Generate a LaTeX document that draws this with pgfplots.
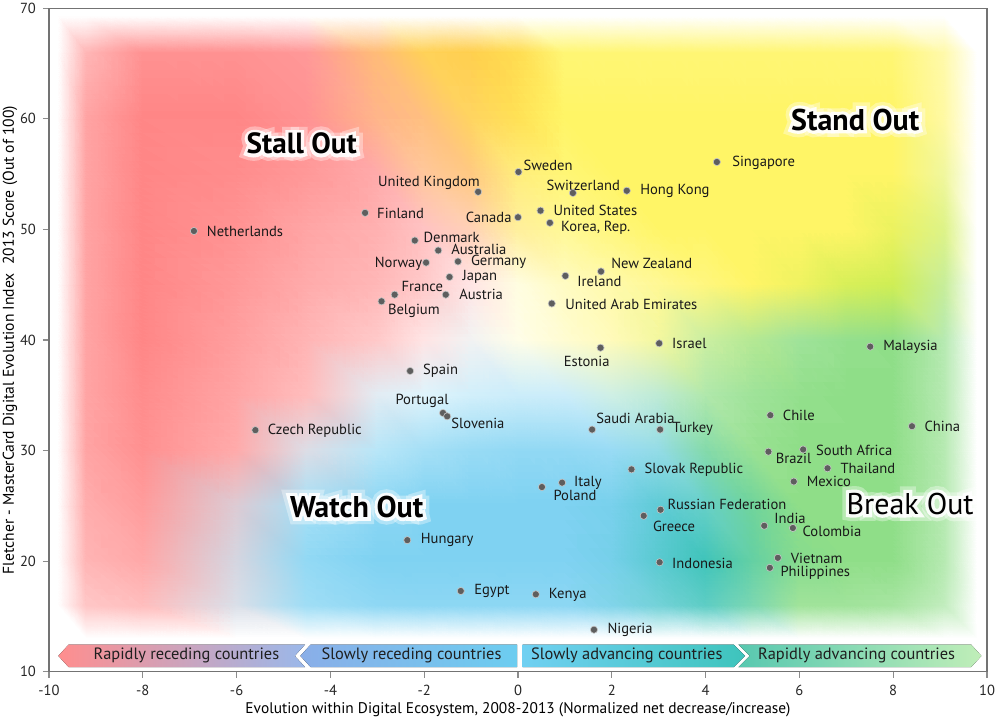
\documentclass[border=0pt]{standalone}
\usepackage{fontspec}
\setmainfont{PT Sans}
\newfontfamily\haloA{PT Sans}[FakeBold=22]
\newfontfamily\haloB{PT Sans}[FakeBold=45]
\usepackage{pgfplots}
\pgfplotsset{compat=1.18}
\definecolor{cR}{HTML}{FF8686}
\definecolor{cO}{HTML}{FFCC44}
\definecolor{cY}{HTML}{FFF566}
\definecolor{cL}{HTML}{CFEE55}
\definecolor{cG}{HTML}{8FDE88}
\definecolor{cT}{HTML}{40C4BA}
\definecolor{cB}{HTML}{7FD2F2}
\newcommand\lab{\fontsize{7.3}{8}\selectfont}
\newcommand\glow[3]{%
  \node[text=white, opacity=0.35, font=\haloB#2] at (#1) {#3};
  \node[text=white, opacity=0.9, font=\haloA#2] at (#1) {#3};
  \node[font=#2, text=black] at (#1) {#3};
}
\begin{document}
\begin{tikzpicture}
\path[use as bounding box] (-24.5pt,-26.15pt) rectangle (475.5pt,335.85pt);
\begin{axis}[
  at={(0,0)}, anchor=south west,
  scale only axis, width=469pt, height=331.7pt,
  xmin=-10, xmax=10, ymin=10, ymax=70,
  xtick={-10,-8,...,10}, ytick={10,20,...,70},
  tick align=outside, tick pos=left, major tick length=3pt,
  axis line style={black!55, line width=0.6pt},
  tick style={black!45, line width=0.6pt},
  ticklabel style={font=\fontsize{7.3}{8}\selectfont, text=black!85},
  /pgf/number format/assume math mode=true,
  xlabel={Evolution within Digital Ecosystem, 2008-2013 (Normalized net decrease/increase)},
  ylabel={Fletcher - MasterCard Digital Evolution Index\ \ 2013 Score (Out of 100)},
  every axis x label/.style={at={(axis description cs:0.5,0)}, yshift=-19pt, anchor=center, font=\fontsize{7.7}{8}\selectfont},
  every axis y label/.style={at={(axis description cs:0,0.5)}, xshift=-19.5pt, rotate=90, anchor=center, font=\fontsize{7.8}{8}\selectfont},
  clip=true,
]
\addplot[surf, shader=interp, mesh/color input=explicit, point meta=explicit symbolic, mesh/cols=19] table[meta=c] {
x y c
-9.8 13 color=white
-9.2 13 color=white
-8 13 color=white
-6 13 color=white
-4.5 13 color=white
-3 13 color=white
-2 13 color=white
-1 13 color=white
0 13 color=white
1 13 color=white
2 13 color=white
3 13 color=white
4 13 color=white
5 13 color=white
6 13 color=white
7 13 color=white
8 13 color=white
9.1 13 color=white
9.8 13 color=white
-9.8 16 color=white
-9.2 16 color=cR!48
-8 16 color=cR!55
-6 16 color=cR!35!cB!45
-4.5 16 color=cB!75
-3 16 color=cB!88
-2 16 color=cB!90
-1 16 color=cB!90
0 16 color=cB!90
1 16 color=cB!90
2 16 color=cB!80!cT!90
3 16 color=cB!40!cT!85
4 16 color=cT!85
5 16 color=cT!55!cG!85
6 16 color=cG!85
7 16 color=cG!85
8 16 color=cG!80
9.1 16 color=cG!55
9.8 16 color=white
-9.8 20 color=white
-9.2 20 color=cR!62
-8 20 color=cR!72
-6 20 color=cR!40!cB!55
-4.5 20 color=cB!85
-3 20 color=cB
-2 20 color=cB
-1 20 color=cB
0 20 color=cB
1 20 color=cB
2 20 color=cB!85!cT
3 20 color=cB!40!cT
4 20 color=cT
5 20 color=cT!55!cG
6 20 color=cG!90!cT
7 20 color=cG
8 20 color=cG
9.1 20 color=cG!65
9.8 20 color=white
-9.8 25 color=white
-9.2 25 color=cR!68
-8 25 color=cR!82
-6 25 color=cR!55!cB!60
-4.5 25 color=cB!70
-3 25 color=cB!90
-2 25 color=cB
-1 25 color=cB
0 25 color=cB
1 25 color=cB
2 25 color=cB!90!cT
3 25 color=cB!50!cT
4 25 color=cT!80
5 25 color=cT!40!cG
6 25 color=cG
7 25 color=cG
8 25 color=cG
9.1 25 color=cG!65
9.8 25 color=white
-9.8 30 color=white
-9.2 30 color=cR!75
-8 30 color=cR!92
-6 30 color=cR!70
-4.5 30 color=cR!40!cB!45
-3 30 color=cB!55
-2 30 color=cB!70
-1 30 color=cB!80
0 30 color=cB!85
1 30 color=cB!85
2 30 color=cB!80
3 30 color=cB!60!cT!70
4 30 color=cT!40!cG!85
5 30 color=cG!90
6 30 color=cG
7 30 color=cG
8 30 color=cG
9.1 30 color=cG!65
9.8 30 color=white
-9.8 35 color=white
-9.2 35 color=cR!75
-8 35 color=cR!95
-6 35 color=cR!75
-4.5 35 color=cR!55
-3 35 color=cR!25!cB!30
-2 35 color=cB!25
-1 35 color=cB!35
0 35 color=cB!40
1 35 color=cB!40
2 35 color=cB!50!cG!40
3 35 color=cG!60!cB!55
4 35 color=cG!70
5 35 color=cG!85
6 35 color=cG!95
7 35 color=cG
8 35 color=cG
9.1 35 color=cG!65
9.8 35 color=white
-9.8 40 color=white
-9.2 40 color=cR!75
-8 40 color=cR
-6 40 color=cR!80
-4.5 40 color=cR!62
-3 40 color=cR!45
-2 40 color=cR!22
-1 40 color=black!5
0 40 color=cY!15
1 40 color=cY!30
2 40 color=cY!45
3 40 color=cY!60!cL!60
4 40 color=cL!50!cG!65
5 40 color=cG!70!cL!80
6 40 color=cG!85
7 40 color=cG!95
8 40 color=cG
9.1 40 color=cG!65
9.8 40 color=white
-9.8 45 color=white
-9.2 45 color=cR!75
-8 45 color=cR
-6 45 color=cR!85
-4.5 45 color=cR!70
-3 45 color=cR!60
-2 45 color=cR!45
-1 45 color=cR!22
0 45 color=cY!20
1 45 color=cY!40
2 45 color=cY!55
3 45 color=cY!70
4 45 color=cY!85
5 45 color=cY
6 45 color=cY!70!cL
7 45 color=cL!80!cY
8 45 color=cL
9.1 45 color=cL!50!cG!70
9.8 45 color=white
-9.8 50 color=white
-9.2 50 color=cR!75
-8 50 color=cR
-6 50 color=cR!90
-4.5 50 color=cR!75
-3 50 color=cR!65
-2 50 color=cR!50
-1 50 color=cO!40!cR!50
0 50 color=cY!60!cO!60
1 50 color=cY!70
2 50 color=cY!85
3 50 color=cY
4 50 color=cY
5 50 color=cY
6 50 color=cY
7 50 color=cY
8 50 color=cY!60!cL
9.1 50 color=cL!70
9.8 50 color=white
-9.8 55 color=white
-9.2 55 color=cR!75
-8 55 color=cR
-6 55 color=cR!95
-4.5 55 color=cR!85
-3 55 color=cR!70
-2 55 color=cR!50!cO!65
-1 55 color=cO!70!cR!75
0 55 color=cY!70!cO!80
1 55 color=cY!90
2 55 color=cY
3 55 color=cY
4 55 color=cY
5 55 color=cY
6 55 color=cY
7 55 color=cY
8 55 color=cY
9.1 55 color=cY!50!cL!60
9.8 55 color=white
-9.8 60 color=white
-9.2 60 color=cR!75
-8 60 color=cR
-6 60 color=cR
-4.5 60 color=cR!90
-3 60 color=cR!60!cO!80
-2 60 color=cO!60!cR!80
-1 60 color=cO!85
0 60 color=cO!50!cY
1 60 color=cY
2 60 color=cY
3 60 color=cY
4 60 color=cY
5 60 color=cY
6 60 color=cY
7 60 color=cY
8 60 color=cY
9.1 60 color=cY!60
9.8 60 color=white
-9.8 66 color=white
-9.2 66 color=cR!60
-8 66 color=cR!90
-6 66 color=cR!90
-4.5 66 color=cR!85
-3 66 color=cO!60!cR!85
-2 66 color=cO!90
-1 66 color=cO!95
0 66 color=cO!60!cY
1 66 color=cY!90
2 66 color=cY!90
3 66 color=cY!90
4 66 color=cY!90
5 66 color=cY!90
6 66 color=cY!90
7 66 color=cY!90
8 66 color=cY!90
9.1 66 color=cY!55
9.8 66 color=white
-9.8 69.3 color=white
-9.2 69.3 color=white
-8 69.3 color=white
-6 69.3 color=white
-4.5 69.3 color=white
-3 69.3 color=white
-2 69.3 color=white
-1 69.3 color=white
0 69.3 color=white
1 69.3 color=white
2 69.3 color=white
3 69.3 color=white
4 69.3 color=white
5 69.3 color=white
6 69.3 color=white
7 69.3 color=white
8 69.3 color=white
9.1 69.3 color=white
9.8 69.3 color=white
};
% banner arrows
\fill[left color={rgb,255:red,255;green,142;blue,142}, middle color={rgb,255:red,221;green,168;blue,240}, right color={rgb,255:red,154;green,184;blue,234}]
  (axis cs:-9.80,11.43) -- (axis cs:-9.58,12.46) -- (axis cs:-4.54,12.46) -- (axis cs:-4.76,11.43) -- (axis cs:-4.54,10.41) -- (axis cs:-9.58,10.41) -- cycle;
\fill[left color={rgb,255:red,138;green,174;blue,232}, right color={rgb,255:red,108;green,205;blue,240}]
  (axis cs:-4.64,11.43) -- (axis cs:-4.42,12.46) -- (axis cs:-0.02,12.46) -- (axis cs:-0.02,10.41) -- (axis cs:-4.42,10.41) -- cycle;
\fill[left color={rgb,255:red,112;green,208;blue,242}, right color={rgb,255:red,62;green,196;blue,188}]
  (axis cs:0.10,12.46) -- (axis cs:4.60,12.46) -- (axis cs:4.84,11.43) -- (axis cs:4.60,10.41) -- (axis cs:0.10,10.41) -- cycle;
\fill[left color={rgb,255:red,88;green,200;blue,176}, right color={rgb,255:red,192;green,238;blue,184}]
  (axis cs:4.70,12.46) -- (axis cs:9.66,12.46) -- (axis cs:9.88,11.43) -- (axis cs:9.66,10.41) -- (axis cs:4.70,10.41) -- (axis cs:4.94,11.43) -- cycle;
\node[font=\fontsize{8.2}{9}\selectfont, text=black!88] at (axis cs:-7.07,11.43) {Rapidly receding countries};
\node[font=\fontsize{8.2}{9}\selectfont, text=black!88] at (axis cs:-2.27,11.43) {Slowly receding countries};
\node[font=\fontsize{8.2}{9}\selectfont, text=black!88] at (axis cs:2.32,11.43) {Slowly advancing countries};
\node[font=\fontsize{8.2}{9}\selectfont, text=black!88] at (axis cs:7.22,11.43) {Rapidly advancing countries};
% countries
\addplot[only marks, mark=*, mark size=1.8pt, draw=black!22, fill=black!63, mark options={line width=0.3pt}] table {
x y
-6.91 49.86
-3.26 51.5
-0.85 53.4
-2.20 49.0
-1.70 48.1
-1.28 47.1
-1.96 47.0
-1.46 45.7
-2.63 44.1
-1.54 44.1
-2.91 43.5
0.01 55.2
1.17 53.3
2.32 53.5
4.24 56.1
0.00 51.1
0.48 51.7
0.68 50.6
1.77 46.2
1.01 45.8
0.72 43.3
3.01 39.7
1.76 39.3
7.51 39.4
-2.30 37.2
-1.60 33.4
-1.51 33.1
-5.60 31.85
-2.36 21.9
-1.22 17.3
1.58 31.9
3.03 31.9
5.38 33.2
8.40 32.2
5.34 29.9
6.08 30.1
6.60 28.4
2.42 28.3
5.88 27.2
0.94 27.1
0.51 26.7
3.04 24.65
2.68 24.1
5.25 23.2
5.86 23.0
3.02 19.9
5.54 20.3
5.37 19.4
0.38 17.0
1.62 13.8
};
\tikzset{lb/.style={font=\lab, text=black!90, inner sep=0pt, anchor=west}}
\node[lb] at (axis cs:-6.64,49.83) {Netherlands};
\node[lb] at (axis cs:-3.01,51.48) {Finland};
\node[lb] at (axis cs:-2.99,54.20) {United Kingdom};
\node[lb] at (axis cs:-2.02,49.29) {Denmark};
\node[lb] at (axis cs:-1.43,48.24) {Australia};
\node[lb] at (axis cs:-1.01,47.08) {Germany};
\node[lb] at (axis cs:-3.06,46.85) {Norway};
\node[lb] at (axis cs:-1.19,45.67) {Japan};
\node[lb] at (axis cs:-2.49,44.88) {France};
\node[lb] at (axis cs:-1.26,44.10) {Austria};
\node[lb] at (axis cs:-2.78,42.62) {Belgium};
\node[lb] at (axis cs:-1.12,51.13) {Canada};
\node[lb] at (axis cs:0.11,55.76) {Sweden};
\node[lb] at (axis cs:0.60,54.02) {Switzerland};
\node[lb] at (axis cs:2.60,53.48) {Hong Kong};
\node[lb] at (axis cs:4.56,56.01) {Singapore};
\node[lb] at (axis cs:0.75,51.76) {United States};
\node[lb] at (axis cs:0.91,50.13) {Korea, Rep.};
\node[lb] at (axis cs:1.98,46.94) {New Zealand};
\node[lb] at (axis cs:1.26,45.25) {Ireland};
\node[lb] at (axis cs:1.00,43.26) {United Arab Emirates};
\node[lb] at (axis cs:3.28,39.67) {Israel};
\node[lb] at (axis cs:7.78,39.40) {Malaysia};
\node[lb] at (axis cs:0.97,38.10) {Estonia};
\node[lb] at (axis cs:-2.03,37.22) {Spain};
\node[lb] at (axis cs:-2.62,34.48) {Portugal};
\node[lb] at (axis cs:-1.43,32.47) {Slovenia};
\node[lb] at (axis cs:-5.34,31.83) {Czech Republic};
\node[lb] at (axis cs:-2.08,21.89) {Hungary};
\node[lb] at (axis cs:-0.94,17.27) {Egypt};
\node[lb] at (axis cs:1.66,32.95) {Saudi Arabia};
\node[lb] at (axis cs:3.29,31.92) {Turkey};
\node[lb] at (axis cs:5.64,33.22) {Chile};
\node[lb] at (axis cs:8.66,32.20) {China};
\node[lb] at (axis cs:6.35,30.05) {South Africa};
\node[lb] at (axis cs:5.49,29.30) {Brazil};
\node[lb] at (axis cs:6.87,28.40) {Thailand};
\node[lb] at (axis cs:2.69,28.24) {Slovak Republic};
\node[lb] at (axis cs:6.15,27.19) {Mexico};
\node[lb] at (axis cs:1.19,27.10) {Italy};
\node[lb] at (axis cs:0.75,25.92) {Poland};
\node[lb] at (axis cs:3.18,25.17) {Russian Federation};
\node[lb] at (axis cs:2.87,23.12) {Greece};
\node[lb] at (axis cs:5.46,23.84) {India};
\node[lb] at (axis cs:6.06,22.66) {Colombia};
\node[lb] at (axis cs:3.28,19.83) {Indonesia};
\node[lb] at (axis cs:5.81,20.29) {Vietnam};
\node[lb] at (axis cs:5.59,18.96) {Philippines};
\node[lb] at (axis cs:0.65,16.97) {Kenya};
\node[lb] at (axis cs:1.90,13.77) {Nigeria};
\coordinate (stall) at (axis cs:-4.61,57.76);
\coordinate (stand) at (axis cs:7.19,59.93);
\coordinate (watch) at (axis cs:-3.44,24.9);
\coordinate (break) at (axis cs:8.36,25.2);
\end{axis}
\glow{stall}{\fontsize{14.6}{16}\selectfont\bfseries}{Stall Out}
\glow{stand}{\fontsize{15}{16}\selectfont\bfseries}{Stand Out}
\glow{watch}{\fontsize{15}{16}\selectfont\bfseries}{Watch Out}
\glow{break}{\fontsize{15}{16}\selectfont}{Break Out}
\end{tikzpicture}
\end{document}
